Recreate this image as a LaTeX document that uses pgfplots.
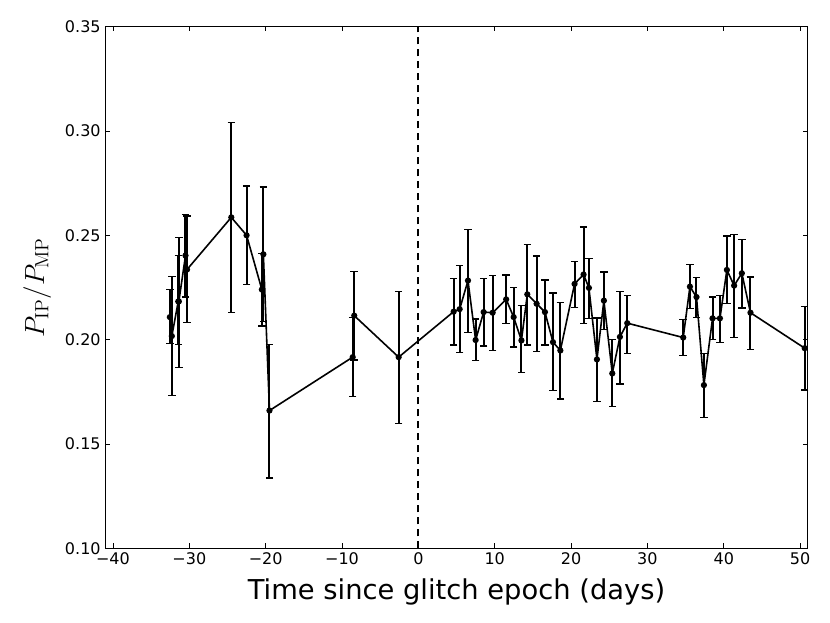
\documentclass[border=0pt]{standalone}
\usepackage{pgfplots}
\pgfplotsset{compat=1.18}
\usepackage{pgfplotstable}
\usepackage[no-math]{fontspec}
\setmainfont{DejaVu Sans}
\pgfplotstableread{
x y hi lo
-32.55 0.2108 0.2240 0.1980
-32.29 0.2017 0.2304 0.1733
-31.45 0.2183 0.2403 0.1977
-31.37 0.2183 0.2491 0.1865
-30.50 0.2403 0.2600 0.2204
-30.30 0.2336 0.2592 0.2081
-24.50 0.2586 0.3042 0.2131
-22.50 0.2500 0.2737 0.2265
-20.50 0.2240 0.2413 0.2065
-20.30 0.2409 0.2731 0.2087
-19.50 0.1660 0.1978 0.1337
-8.60 0.1916 0.2105 0.1727
-8.40 0.2115 0.2328 0.1903
-2.58 0.1916 0.2230 0.1599
4.62 0.2134 0.2292 0.1975
5.41 0.2146 0.2355 0.1939
6.50 0.2283 0.2529 0.2034
7.50 0.1998 0.2099 0.1900
8.55 0.2132 0.2292 0.1969
9.73 0.2129 0.2307 0.1947
11.50 0.2193 0.2310 0.2076
12.48 0.2108 0.2249 0.1964
13.50 0.1996 0.2165 0.1844
14.27 0.2217 0.2457 0.1975
15.49 0.2172 0.2401 0.1943
16.58 0.2132 0.2286 0.1975
17.63 0.1988 0.2223 0.1756
18.60 0.1948 0.2177 0.1716
20.46 0.2267 0.2376 0.2154
21.64 0.2312 0.2540 0.2076
22.34 0.2248 0.2390 0.2100
23.39 0.1905 0.2103 0.1705
24.30 0.2187 0.2324 0.2048
25.40 0.1838 0.2001 0.1680
26.40 0.2013 0.2232 0.1788
27.36 0.2079 0.2212 0.1934
34.69 0.2010 0.2097 0.1923
35.57 0.2254 0.2360 0.2148
36.43 0.2204 0.2297 0.2105
37.40 0.1782 0.1935 0.1626
38.53 0.2102 0.2204 0.2000
39.50 0.2102 0.2210 0.1987
40.41 0.2334 0.2496 0.2172
41.36 0.2259 0.2505 0.2010
42.37 0.2318 0.2481 0.2151
43.50 0.2129 0.2300 0.1954
50.60 0.1959 0.2158 0.1759
}\datatable
\begin{document}
\begin{tikzpicture}
\begin{axis}[
  scale only axis,
  width=526.8pt, height=391.2pt,
  xmin=-41, xmax=51, ymin=0.10, ymax=0.35,
  xtick={-40,-30,-20,-10,0,10,20,30,40,50},
  xticklabels={−40,−30,−20,−10,0,10,20,30,40,50},
  ytick={0.10,0.15,0.20,0.25,0.30,0.35},
  yticklabels={0.10,0.15,0.20,0.25,0.30,0.35},
  tick align=inside,
  major tick length=3.6pt,
  tick style={black, line width=0.6pt},
  axis line style={line width=0.9pt},
  tick label style={font=\fontsize{12}{14}\selectfont},
  xlabel={Time since glitch epoch (days)},
  ylabel={$P_{\mathrm{IP}}/P_{\mathrm{MP}}$},
  every axis x label/.style={at={(axis description cs:0.5,0)}, anchor=base, yshift=-38.8pt, font=\fontsize{20.5}{24}\selectfont},
  every axis y label/.style={at={(axis description cs:-0.097,0.5)}, anchor=center, rotate=90, font=\fontsize{21}{24}\selectfont},
  clip=false,
]
\addplot[black, line width=1.3pt, dash pattern=on 5.5pt off 3.5pt, forget plot] coordinates {(0,0.10) (0,0.35)};
\addplot[black, line width=1.2pt, mark=*, mark size=1.7pt,
  error bars/.cd, y dir=both, y explicit,
  error bar style={line width=1.5pt, black},
  error mark options={black, line width=1pt, mark size=2.8pt, rotate=90}]
  table[x=x, y=y, y error plus expr=\thisrow{hi}-\thisrow{y}, y error minus expr=\thisrow{y}-\thisrow{lo}] {\datatable};
\end{axis}
\pgfresetboundingbox
\path[use as bounding box] (-79pt,-56pt) rectangle (543.5pt,411.2pt);
\end{tikzpicture}
\end{document}
